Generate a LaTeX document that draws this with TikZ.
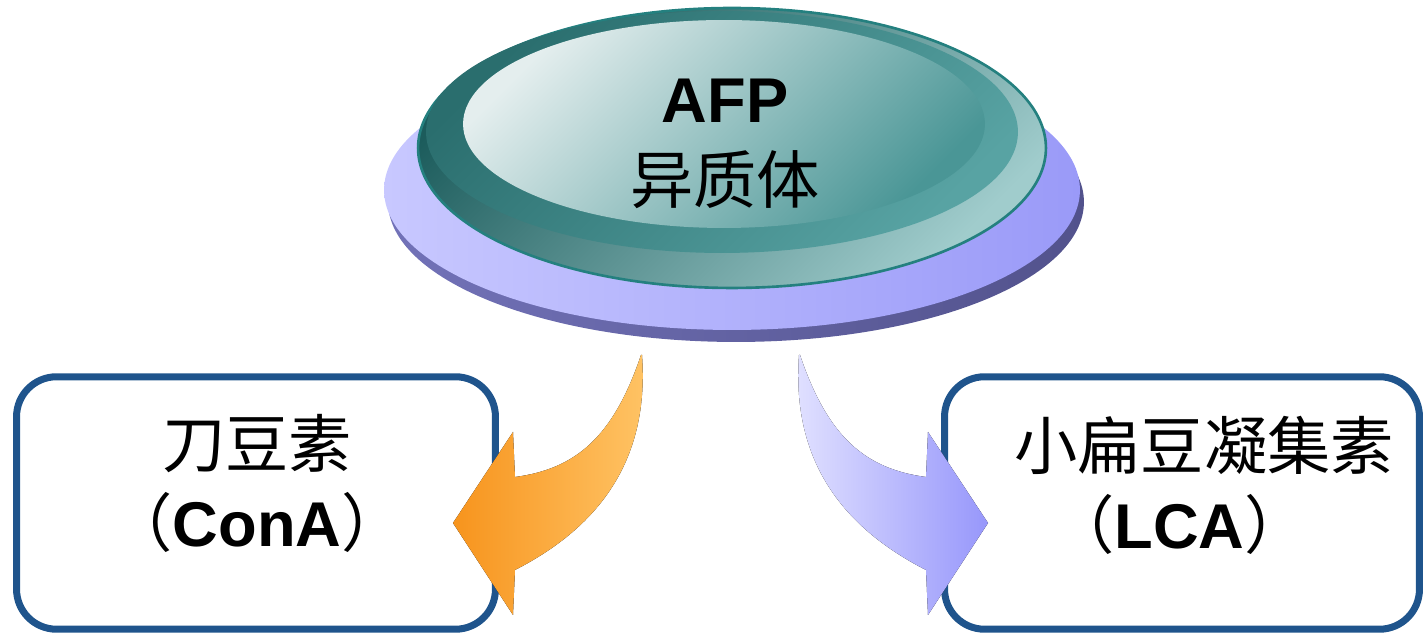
\documentclass[tikz,border=0pt]{standalone}
\usepackage{fontspec}
\setmainfont{Liberation Sans}
\newfontfamily\cjk{Noto Sans CJK SC}
\usepackage{tikz}
\usetikzlibrary{shapes.geometric,positioning}
\definecolor{plateL}{HTML}{C8C8FF}
\definecolor{plateR}{HTML}{9A9AF8}
\definecolor{shadowL}{HTML}{7272B8}
\definecolor{shadowR}{HTML}{52528C}
\definecolor{rimdark}{HTML}{1C5C5C}
\definecolor{rimlight}{HTML}{A0CCCC}
\definecolor{rimline}{HTML}{24807F}
\definecolor{tealdark}{HTML}{2A6E6E}
\definecolor{teallight}{HTML}{58A3A3}
\definecolor{glossL}{HTML}{E4EEEE}
\definecolor{glossR}{HTML}{4A9696}
\definecolor{boxblue}{HTML}{1F548C}
\definecolor{orangetip}{HTML}{F7941D}
\definecolor{orangetail}{HTML}{FFC466}
\definecolor{lilactail}{HTML}{E2E2FF}
\definecolor{lilactip}{HTML}{9797FB}
\tikzset{
	disc/.style={
		% The shape:
		ellipse,inner sep=0pt,
		% no border
		draw=none,
	}}
\tikzset{
	lectin/.style={
		% The shape:
		shape=rectangle,rounded corners=0.8cm,
		% The size:
		minimum width=9.58cm,minimum height=5.05cm,
		% The border:
		line width=0.14cm,
		draw=boxblue,
	}}
\tikzset{
	bigtext/.style={
		font=\fontsize{36pt}{45pt}\selectfont,
		align=center,inner sep=0pt,
	}}

\begin{document}
\begin{tikzpicture}[x=0.02cm,y=0.02cm]
	\useasboundingbox (0,0) rectangle (1424,634);
	% plate under the button
	\node[disc,minimum width=13.92cm,minimum height=5.6cm,left color=shadowL,right color=shadowR] (shadow) at (736,432) {};
	\node[disc,minimum width=13.92cm,minimum height=5.6cm,left color=plateL,right color=plateR] (plate) at (732,444) {};
	% the button
	\node[disc,minimum width=12.56cm,minimum height=5.6cm,top color=rimdark,bottom color=rimlight,shading angle=45,draw=rimline,line width=1.5pt] (rim) at (732,486) {};
	\node[disc,minimum width=11.84cm,minimum height=4.84cm,top color=tealdark,bottom color=teallight,shading angle=45] (bevel) at (722,502) {};
	\node[disc,minimum width=10.44cm,minimum height=4.16cm,top color=glossL,bottom color=glossR,shading angle=45] (gloss) at (724,510) {};
	\node[bigtext,font=\fontsize{36pt}{46pt}\selectfont] (afp) at (725,490) {\textbf{AFP}\\{\cjk 异质体}};
	% the two lectins
	\node[lectin] (cona) at (256,131) {};
	\node[lectin,minimum width=9.5cm] (lca) at (1182,131) {};
	\node[bigtext] (conatext) at (257,151) {{\cjk 刀豆素}\\{\cjk （}\textbf{ConA}{\cjk ）}};
	\node[bigtext,align=left] (lcatext) at (1204,149) {{\cjk 小扁豆凝集素}\\\hspace*{0.74cm}{\cjk （}\textbf{LCA}{\cjk ）}};
	% curved block arrows
	\fill[left color=orangetip,right color=orangetail] (641,279) .. controls (613,196) and (575,165) .. (515,157) -- (513,202) -- (453,111) -- (513,19) -- (515,64) .. controls (595,105) and (650,170) .. (642,279) -- cycle;
	\fill[left color=lilactail,right color=lilactip] (800,279) .. controls (828,196) and (866,165) .. (926,157) -- (928,202) -- (988,111) -- (928,19) -- (926,64) .. controls (846,105) and (791,170) .. (799,279) -- cycle;
\end{tikzpicture}
\end{document}
